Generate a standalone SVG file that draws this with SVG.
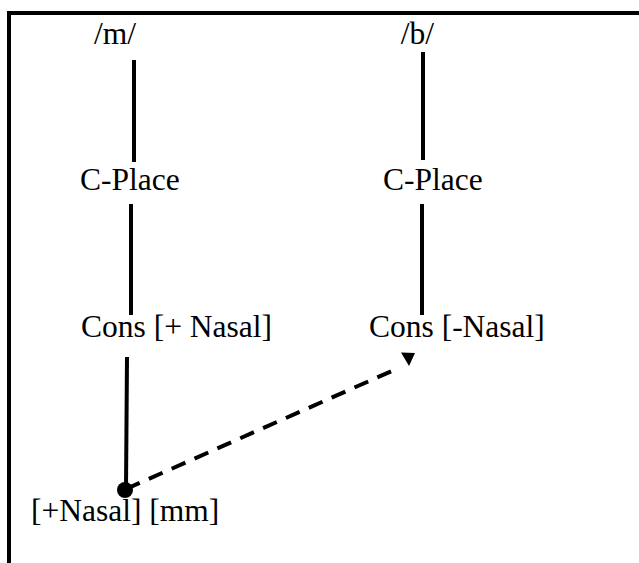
<svg xmlns="http://www.w3.org/2000/svg" width="639" height="563" viewBox="0 0 639 563">
  <style>
    text { font-family: 'Liberation Serif', 'Times New Roman', serif; font-size: 31.5px; fill: #000; }
    .edge { stroke: #000; stroke-width: 4; fill: none; }
    .dash { stroke: #000; stroke-width: 4; fill: none; stroke-dasharray: 15 10; }
  </style>
  <rect width="639" height="563" fill="#fff"/>
  <!-- frame: only top and left edges fall inside the canvas -->
  <rect x="9" y="13" width="700" height="620" fill="none" stroke="#000" stroke-width="4"/>

  <g id="connectors">
    <line class="edge" x1="134" y1="60" x2="134" y2="162"/>
    <line class="edge" x1="423" y1="52" x2="423" y2="160"/>
    <line class="edge" x1="131" y1="204" x2="131" y2="315"/>
    <line class="edge" x1="422" y1="204" x2="422" y2="315"/>
    <line class="edge" x1="127" y1="357" x2="126" y2="489"/>
    <line class="dash" x1="126" y1="489" x2="394" y2="370"/>
    <circle cx="125" cy="490" r="8" fill="#000"/>
    <polygon points="401,352.5 415,353 409,366" fill="#000"/>
  </g>

  <g id="m"><text x="115" y="44" text-anchor="middle">/m/</text></g>
  <g id="b"><text x="417.5" y="44" text-anchor="middle">/b/</text></g>
  <g id="cplace-m"><text x="80" y="190">C-Place</text></g>
  <g id="cplace-b"><text x="383" y="190">C-Place</text></g>
  <g id="cons-m"><text x="81" y="337">Cons [+ Nasal]</text></g>
  <g id="cons-b"><text x="369" y="337">Cons [-Nasal]</text></g>
  <g id="nasal-mm"><text x="31" y="521">[+Nasal] [mm]</text></g>
</svg>
